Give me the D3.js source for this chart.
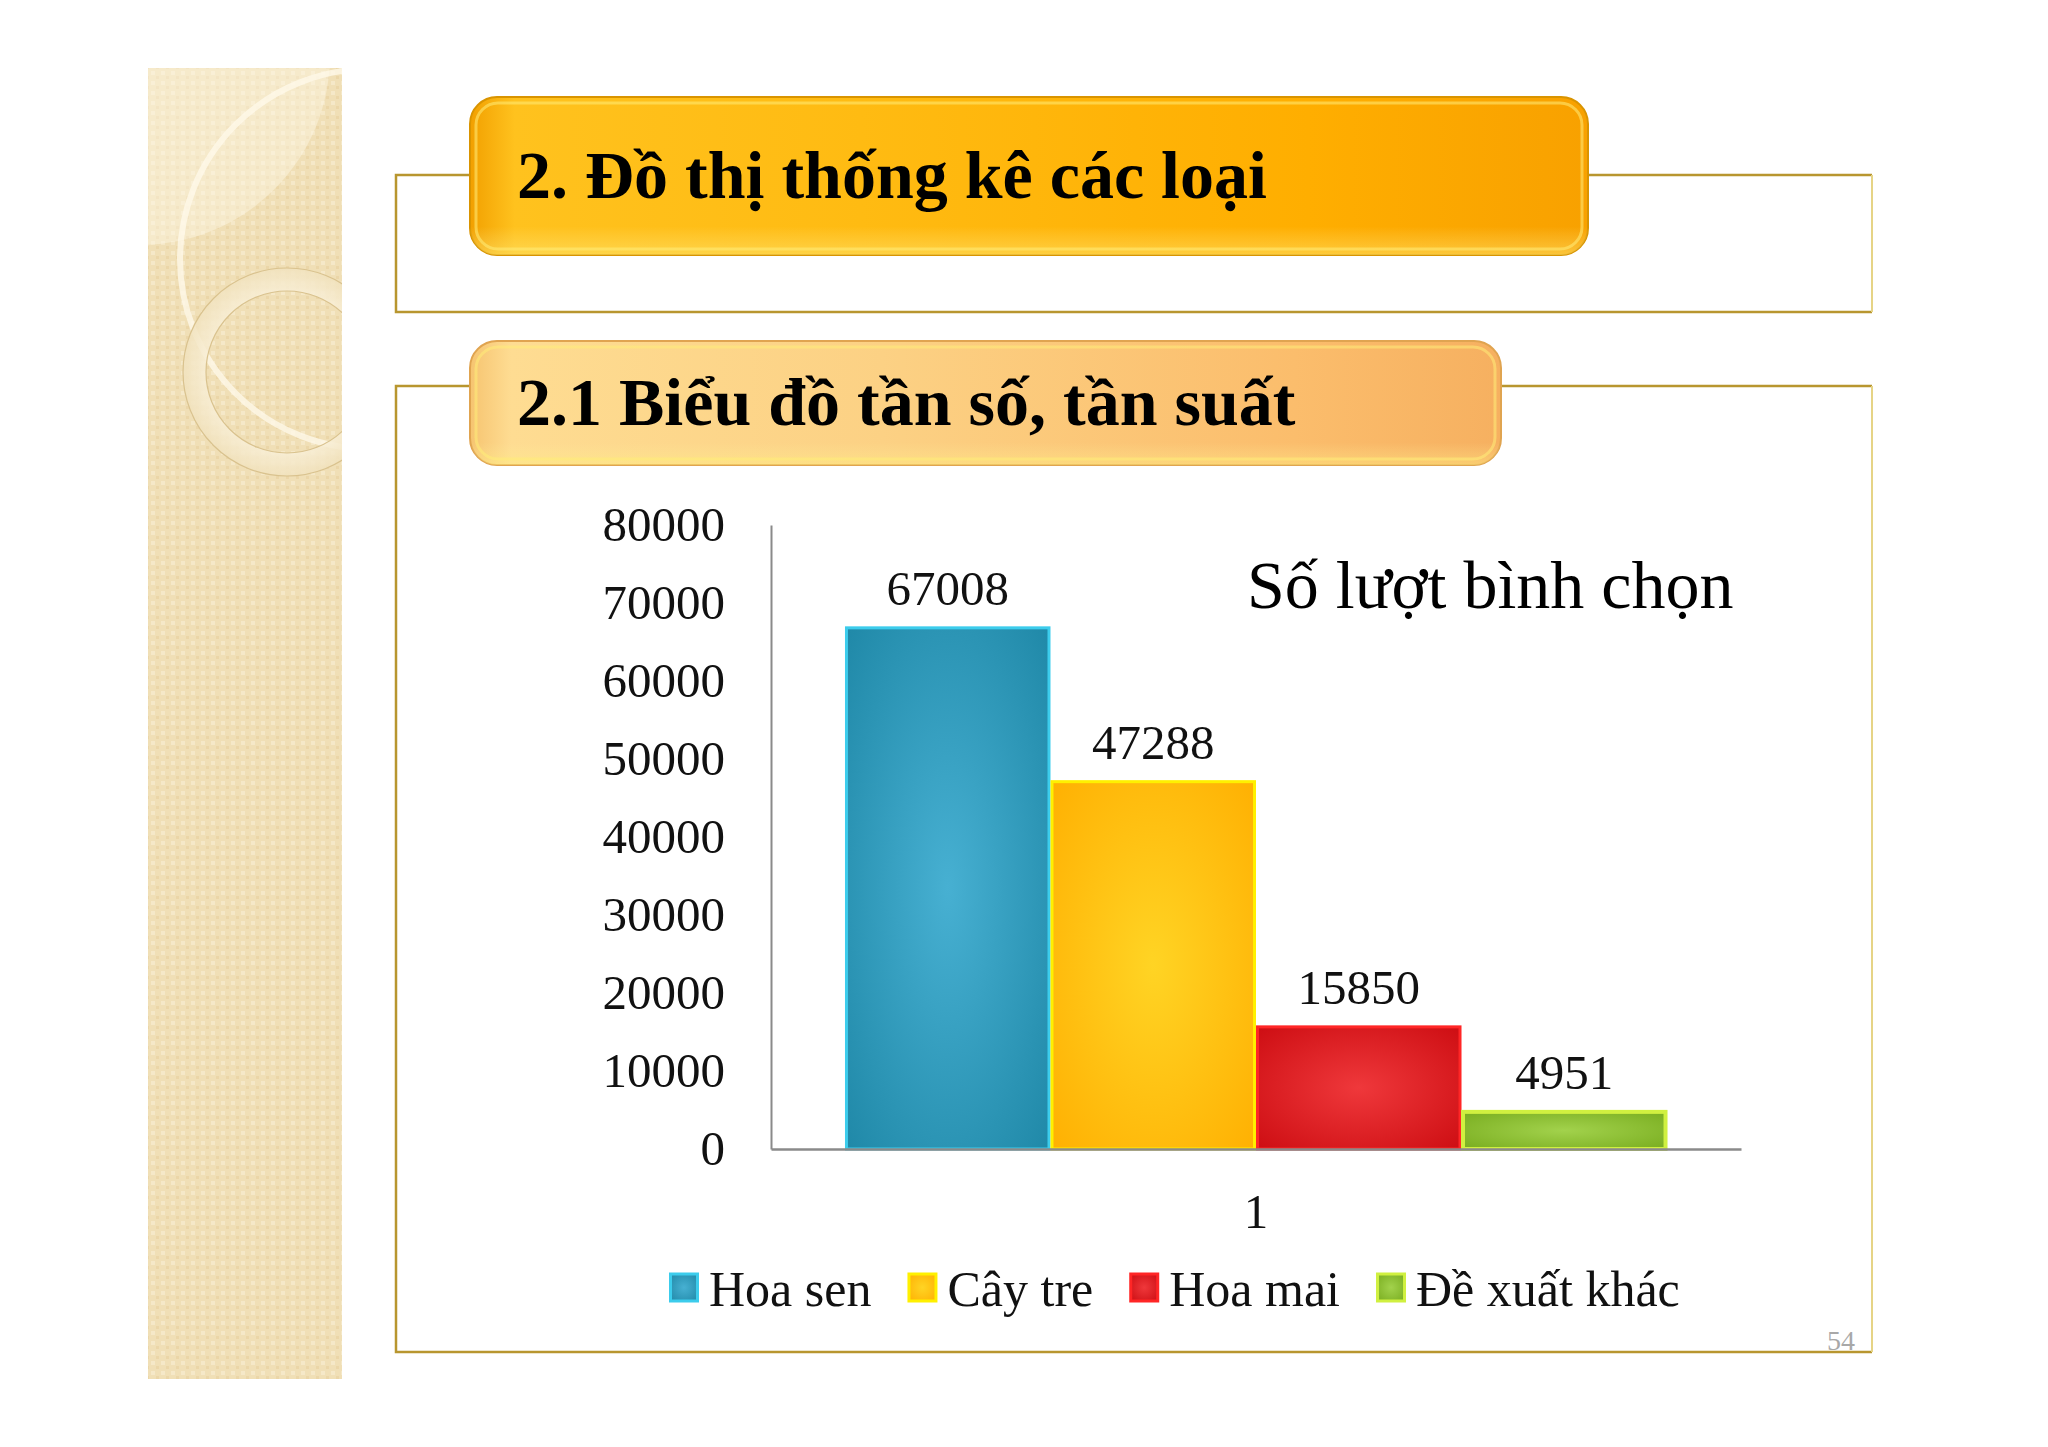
<!DOCTYPE html>
<html>
<head>
<meta charset="utf-8">
<script src="https://cdn.jsdelivr.net/npm/d3@7/dist/d3.min.js"></script>
<style>
  html, body { margin: 0; padding: 0; background: #ffffff; }
  svg { display: block; }
</style>
</head>
<body>
<script>
// ---- data ----
const heading1 = "2. Đồ thị thống kê các loại";
const heading2 = "2.1 Biểu đồ tần số, tần suất";
const chartTitle = "Số lượt bình chọn";
const categories = ["1"];
const seriesNames = ["Hoa sen", "Cây tre", "Hoa mai", "Đề xuất khác"];
const seriesValues = [67008, 47288, 15850, 4951];
const yTickValues = [0, 10000, 20000, 30000, 40000, 50000, 60000, 70000, 80000];
const pageNumber = "54";

// ---- styles ----
const seriesStyles = [
  { center: "#47b0d2", edge: "#1d86a5", stroke: "#3cccec" },
  { center: "#ffd424", edge: "#ffae00", stroke: "#fff000" },
  { center: "#ef383b", edge: "#cb0b10", stroke: "#ff2626" },
  { center: "#a2d24c", edge: "#76aa1c", stroke: "#d0f040" }
];

const W = 2048, H = 1447;
const svg = d3.select("body").append("svg").attr("width", W).attr("height", H);
const defs = svg.append("defs");
svg.append("rect").attr("width", W).attr("height", H).attr("fill", "#ffffff");

// ---- sidebar ----
const pat = defs.append("pattern").attr("id", "dots").attr("width", 10).attr("height", 10)
  .attr("patternUnits", "userSpaceOnUse");
pat.append("rect").attr("width", 10).attr("height", 10).attr("fill", "#f0dfb6");
pat.append("rect").attr("x", 1).attr("y", 1).attr("width", 4).attr("height", 4).attr("fill", "#f5e8c8");
pat.append("rect").attr("x", 6).attr("y", 6).attr("width", 3).attr("height", 3).attr("fill", "#ebd6a8");
defs.append("clipPath").attr("id", "sideClip").append("rect")
  .attr("x", 148).attr("y", 68).attr("width", 194).attr("height", 1311);
const side = svg.append("g").attr("clip-path", "url(#sideClip)");
side.append("rect").attr("x", 148).attr("y", 68).attr("width", 194).attr("height", 1311).attr("fill", "url(#dots)");
side.append("circle").attr("cx", 140).attr("cy", 55).attr("r", 190)
  .attr("fill", "rgba(255,250,235,0.4)");
side.append("circle").attr("cx", 370).attr("cy", 259).attr("r", 190)
  .attr("fill", "none").attr("stroke", "rgba(255,250,235,0.75)").attr("stroke-width", 6);
const ringGrad = defs.append("radialGradient").attr("id", "ringGrad");
ringGrad.append("stop").attr("offset", "0.7").attr("stop-color", "#fbf3df");
ringGrad.append("stop").attr("offset", "1").attr("stop-color", "#f1e2bd");
side.append("path")
  .attr("d", d3.arc().innerRadius(81).outerRadius(104).startAngle(0).endAngle(2 * Math.PI)())
  .attr("transform", "translate(287,372)")
  .attr("fill", "url(#ringGrad)").attr("fill-opacity", 0.85)
  .attr("stroke", "#d9c28e").attr("stroke-width", 1.2);

// ---- panel outlines ----
function panel(x, y, w, h) {
  svg.append("path").attr("d", `M${x + w},${y} L${x},${y} L${x},${y + h} L${x + w},${y + h}`)
    .attr("fill", "none").attr("stroke", "#b8962f").attr("stroke-width", 2.5);
  svg.append("line").attr("x1", x + w).attr("y1", y).attr("x2", x + w).attr("y2", y + h)
    .attr("stroke", "#e6d486").attr("stroke-width", 2);
}
panel(396, 175, 1476, 137);
panel(396, 386, 1476, 966);

// ---- heading boxes ----
function headBox(id, x, y, w, h, stops, border, text) {
  const g = defs.append("linearGradient").attr("id", id).attr("x1", 0).attr("x2", 1).attr("y1", 0).attr("y2", 0);
  stops.forEach(s => g.append("stop").attr("offset", s[0]).attr("stop-color", s[1]));
  const gv = defs.append("linearGradient").attr("id", id + "v").attr("x1", 0).attr("x2", 0).attr("y1", 0).attr("y2", 1);
  gv.append("stop").attr("offset", 0).attr("stop-color", "#fff6c0").attr("stop-opacity", 0.0);
  gv.append("stop").attr("offset", 0.82).attr("stop-color", "#fff0a0").attr("stop-opacity", 0.0);
  gv.append("stop").attr("offset", 1).attr("stop-color", "#fff080").attr("stop-opacity", 0.45);
  svg.append("rect").attr("x", x).attr("y", y).attr("width", w).attr("height", h).attr("rx", 27)
    .attr("fill", `url(#${id})`).attr("stroke", border).attr("stroke-width", 2);
  svg.append("rect").attr("x", x).attr("y", y).attr("width", w).attr("height", h).attr("rx", 27)
    .attr("fill", `url(#${id}v)`);
  svg.append("rect").attr("x", x + 6).attr("y", y + 6).attr("width", w - 12).attr("height", h - 12).attr("rx", 22)
    .attr("fill", "none").attr("stroke", "rgba(255,236,120,0.55)").attr("stroke-width", 3);
  svg.append("text").attr("x", 517).attr("y", y + h / 2 + 22)
    .attr("font-family", "'Liberation Serif', 'Times New Roman', serif")
    .attr("font-weight", "bold").attr("font-size", 68).attr("fill", "#000").text(text);
}
headBox("hb1", 470, 97, 1118, 158,
  [[0, "#f2a000"], [0.04, "#ffc21e"], [0.35, "#ffbb12"], [0.75, "#ffae00"], [1, "#f8a100"]],
  "#d99400", heading1);
headBox("hb2", 470, 341, 1031, 124,
  [[0, "#f6c470"], [0.04, "#fedc92"], [0.4, "#fcd184"], [0.8, "#fbbd6c"], [1, "#f6b060"]],
  "#e0a450", heading2);

// ---- chart ----
const plotLeft = 771, plotRight = 1741, plotTop = 525, plotBottom = 1149;
const font = "'Liberation Serif', 'Times New Roman', serif";
const y = d3.scaleLinear().domain([0, 80000]).range([plotBottom, plotTop]);
const x0 = d3.scaleBand().domain(categories).range([plotLeft, plotRight]).paddingInner(0).paddingOuter(0.09);
const x1 = d3.scaleBand().domain(seriesNames).range([0, x0.bandwidth()]).padding(0);

// gradients for bars
seriesStyles.forEach((s, i) => {
  const rg = defs.append("radialGradient").attr("id", "bar" + i)
    .attr("cx", 0.5).attr("cy", 0.5).attr("r", 0.75);
  rg.append("stop").attr("offset", 0).attr("stop-color", s.center);
  rg.append("stop").attr("offset", 1).attr("stop-color", s.edge);
});

// y axis
const yAxis = svg.append("g").attr("transform", `translate(${plotLeft},0)`)
  .call(d3.axisLeft(y).tickValues(yTickValues).tickSize(0).tickPadding(46).tickFormat(d3.format("d")));
yAxis.select(".domain").attr("stroke", "#8a8a8a").attr("stroke-width", 2);
yAxis.selectAll("text").attr("font-family", font).attr("font-size", 49).attr("fill", "#111");

// bars
const groups = svg.append("g").selectAll("g").data(categories).join("g")
  .attr("transform", d => `translate(${x0(d)},0)`);
groups.selectAll("rect").data(seriesNames.map((n, i) => ({ name: n, value: seriesValues[i], i })))
  .join("rect")
  .attr("x", d => x1(d.name) + 1.5)
  .attr("y", d => y(d.value) + 1.5)
  .attr("width", x1.bandwidth() - 3)
  .attr("height", d => y(0) - y(d.value) - 1.5)
  .attr("fill", d => `url(#bar${d.i})`)
  .attr("stroke", d => seriesStyles[d.i].stroke)
  .attr("stroke-width", d => d.i === 3 ? 4 : 3);

// data labels
groups.selectAll("text.lbl").data(seriesNames.map((n, i) => ({ name: n, value: seriesValues[i] })))
  .join("text").attr("class", "lbl")
  .attr("x", d => x1(d.name) + x1.bandwidth() / 2)
  .attr("y", d => y(d.value) - 21)
  .attr("text-anchor", "middle")
  .attr("font-family", font).attr("font-size", 49).attr("fill", "#111")
  .text(d => d.value);

// x axis
const xAxis = svg.append("g").attr("transform", `translate(0,${plotBottom})`)
  .call(d3.axisBottom(x0).tickSize(0).tickSizeOuter(0).tickPadding(44));
xAxis.select(".domain").attr("stroke", "#8a8a8a").attr("stroke-width", 2.5);
xAxis.selectAll("text").attr("font-family", font).attr("font-size", 49).attr("fill", "#111");

// chart title
svg.append("text").attr("x", 1247).attr("y", 608)
  .attr("font-family", font).attr("font-size", 68).attr("fill", "#000").text(chartTitle);

// legend
const legend = svg.append("g");
let lx = 669;
seriesNames.forEach((n, i) => {
  const s = seriesStyles[i];
  legend.append("rect").attr("x", lx + 1.5).attr("y", 1274).attr("width", 27).attr("height", 27)
    .attr("fill", `url(#bar${i})`).attr("stroke", s.stroke).attr("stroke-width", 3);
  const t = legend.append("text").attr("x", lx + 40).attr("y", 1306)
    .attr("font-family", font).attr("font-size", 50).attr("fill", "#111").text(n);
  lx = lx + 40 + t.node().getComputedTextLength() + 36;
});

// page number
svg.append("text").attr("x", 1855).attr("y", 1350).attr("text-anchor", "end")
  .attr("font-family", font).attr("font-size", 28).attr("fill", "#a8a8a8").text(pageNumber);
</script>
</body>
</html>
